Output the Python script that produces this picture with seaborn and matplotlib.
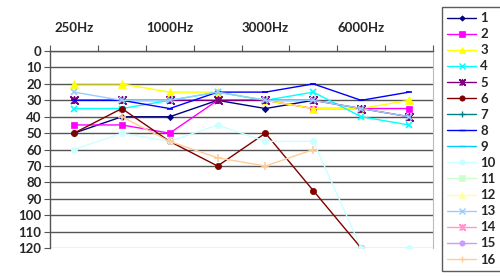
import numpy as np
import pandas as pd
import matplotlib
matplotlib.use('Agg')
import matplotlib.pyplot as plt
from matplotlib.lines import Line2D
import seaborn as sns

freqs = ['250Hz', '500Hz', '1000Hz', '2000Hz', '3000Hz', '4000Hz', '6000Hz', '8000Hz']
shown_labels = ['250Hz', '1000Hz', '3000Hz', '6000Hz']
nan = np.nan

s1 = [50, 40, 40, 30, 35, 30, nan, nan]
s2 = [45, 45, 50, 30, 30, 35, 35, 35]
s3 = [20, 20, 25, 25, 30, 35, 35, 30]
s4 = [35, 35, 30, 25, 30, 25, 40, 45]
s5 = [30, 30, 30, 30, 30, 30, 35, 40]
s6 = [50, 35, 55, 70, 50, 85, 120, nan]
s8 = [30, 30, 35, 25, 25, 20, 30, 25]
s10 = [60, 50, 55, 45, 55, 55, 120, 120]
s13 = [25, 30, 30, 25, 30, 30, 35, 40]
s16 = [nan, 40, 55, 65, 70, 60, nan, nan]
empty = [nan] * 8

series = {'1': s1, '2': s2, '3': s3, '4': s4, '5': s5, '6': s6, '7': empty, '8': s8,
          '9': empty, '10': s10, '11': empty, '12': empty, '13': s13, '14': empty,
          '15': empty, '16': s16}

colors = {'1': '#000080', '2': '#FF00FF', '3': '#FFFF00', '4': '#00FFFF', '5': '#800080',
          '6': '#800000', '7': '#008080', '8': '#0000FF', '9': '#00CCFF', '10': '#CCFFFF',
          '11': '#CCFFCC', '12': '#FFFF99', '13': '#99CCFF', '14': '#FF99CC', '15': '#CC99FF',
          '16': '#FFCC99'}
star = (4, 2, 0)
markers = {'1': 'D', '2': 's', '3': '^', '4': 'x', '5': 'star', '6': 'o', '7': '+', '8': '_',
           '9': '_', '10': 'o', '11': 's', '12': '^', '13': 'x', '14': 'star', '15': 'o', '16': '+'}
msizes = {'D': 3.2, 's': 4.5, '^': 5.5, 'x': 5, 'star': 5, 'o': 4.5, '+': 5.5, '_': 5}


def mk(m):
    return [(-1, -1), (1, 1), (0, 0), (-1, 1), (1, -1), (0, 0), (0, 1), (0, -1)] if m == 'star' else m


rows = []
for name, vals in series.items():
    for i, v in enumerate(vals):
        rows.append({'series': name, 'pos': i, 'dB': v})
df = pd.DataFrame(rows)

sns.set_style('white')
plt.rcParams['font.family'] = ['Lato', 'DejaVu Sans']
plt.rcParams['font.weight'] = 'bold'

fig = plt.figure(figsize=(5, 2.76), dpi=100)
ax = fig.add_axes([0.1, 0.101, 0.766, 0.714])

for gy in range(0, 121, 10):
    ax.axhline(gy, color='#555555' if gy < 120 else '#bbbbbb', lw=1, zorder=0)

for name in series:
    sub = df[df['series'] == name].dropna()
    if len(sub) == 0:
        continue
    m = markers[name]
    thin = m in ('x', '+', 'star', '_')
    sns.lineplot(data=sub, x='pos', y='dB', ax=ax, color=colors[name], lw=1.0,
                 marker=mk(m), markersize=msizes[m], markeredgecolor=colors[name],
                 markeredgewidth=1.2 if thin else 0.5, legend=False, zorder=3)

ax.set_xlim(-0.5, 7.5)
ax.set_ylim(120, 0)
ax.xaxis.tick_top()
ax.set_xticks(np.arange(-0.5, 8, 1))
ax.set_xticklabels([])
ax.set_xticks([0, 2, 4, 6], minor=True)
ax.set_xticklabels(shown_labels, minor=True, fontsize=9.5, fontweight='bold')
ax.tick_params(axis='x', which='major', direction='out', length=4, color='#555555', top=True, bottom=False)
ax.tick_params(axis='x', which='minor', length=0, pad=12, top=True, bottom=False)
ax.set_yticks(range(0, 121, 10))
ax.set_yticklabels([str(v) for v in range(0, 121, 10)], fontsize=9.5, fontweight='bold')
ax.tick_params(axis='y', direction='out', length=4, color='#555555', left=True, pad=2)
ax.set_xlabel('')
ax.set_ylabel('')
for side in ['top', 'left']:
    ax.spines[side].set_color('#555555')
    ax.spines[side].set_linewidth(1)
ax.spines['right'].set_color('#bbbbbb')
ax.spines['bottom'].set_visible(False)

handles = []
for name in series:
    m = markers[name]
    thin = m in ('x', '+', 'star', '_')
    handles.append(Line2D([], [], color=colors[name], lw=1.0, marker=mk(m),
                          markersize=msizes[m] * 0.85, markeredgecolor=colors[name],
                          markeredgewidth=1.0 if thin else 0.5))
leg = fig.legend(handles, list(series.keys()), loc='upper left', bbox_to_anchor=(0.884, 0.975),
                 frameon=True, fancybox=False, fontsize=9.5, handlelength=2.2, handletextpad=0.3,
                 labelspacing=0.31, borderpad=0.4, borderaxespad=0)
leg.get_frame().set_edgecolor('#333333')
leg.get_frame().set_linewidth(1)
for t in leg.get_texts():
    t.set_fontweight('bold')

fig.savefig('out.png', dpi=100)
